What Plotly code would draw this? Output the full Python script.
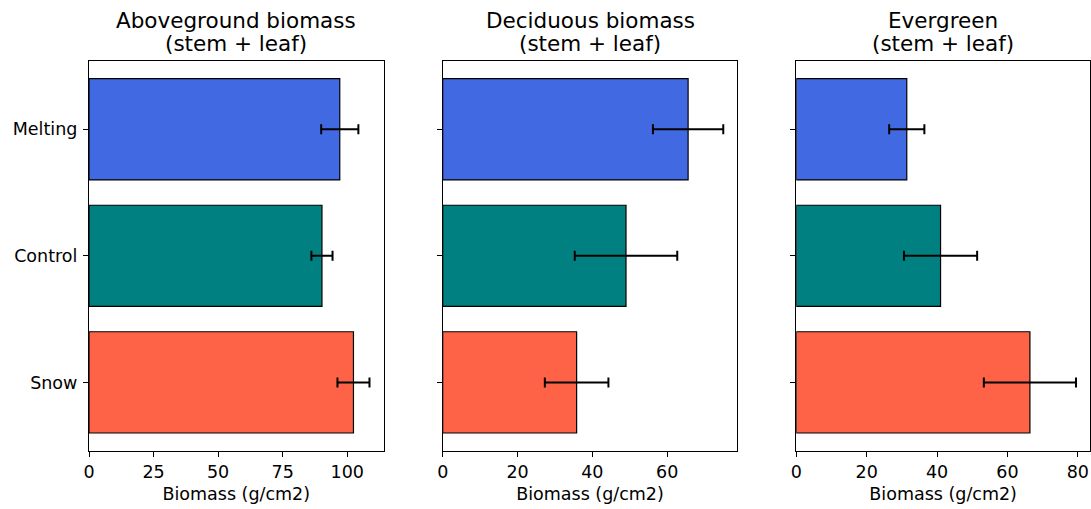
import plotly.graph_objects as go

categories = ["Melting", "Control", "Snow"]
colors = ["#4169E1", "#008080", "#FF6347"]

titles = [("Aboveground biomass", "(stem + leaf)"),
          ("Deciduous biomass", "(stem + leaf)"),
          ("Evergreen", "(stem + leaf)")]

above_vals = [97.1, 90.2, 102.4]
above_err = [7.2, 4.1, 6.2]
decid_vals = [65.6, 49.0, 35.8]
decid_err = [9.4, 13.7, 8.5]
ever_vals = [31.4, 41.0, 66.4]
ever_err = [5.0, 10.4, 13.1]

x_ticks = [[0, 25, 50, 75, 100], [0, 20, 40, 60], [0, 20, 40, 60, 80]]

series = [(above_vals, above_err), (decid_vals, decid_err), (ever_vals, ever_err)]

W, H = 1091, 509
x_domains = [[89 / W, 383.5 / W], [442.7 / W, 737.3 / W], [796.3 / W, 1090 / W]]
y_domain = [1 - 450.7 / H, 1 - 61 / H]

font = "DejaVu Sans"
fig = go.Figure()

for i, (vals, errs) in enumerate(series):
    n = "" if i == 0 else str(i + 1)
    fig.add_trace(go.Bar(
        x=vals, y=categories, orientation="h", width=0.8,
        marker=dict(color=colors, line=dict(color="black", width=1.2)),
        error_x=dict(type="data", array=errs, visible=True, color="black",
                     thickness=2, width=5),
        xaxis="x" + n, yaxis="y" + n, showlegend=False,
    ))
    xmax = max(v + e for v, e in zip(vals, errs)) * 1.05
    axis_common = dict(showline=True, mirror=True, linecolor="black", linewidth=1.2,
                       ticks="outside", ticklen=5, tickwidth=1, tickcolor="black",
                       showgrid=False, zeroline=False, automargin=False,
                       tickfont=dict(family=font, size=17.5, color="black"))
    fig.layout["xaxis" + n] = dict(
        domain=x_domains[i], range=[0, xmax], anchor="y" + n,
        tickvals=x_ticks[i], ticktext=[str(t) for t in x_ticks[i]],
        title=dict(text="Biomass (g/cm2)", font=dict(family=font, size=17.5, color="black"),
                   standoff=6),
        **axis_common)
    fig.layout["yaxis" + n] = dict(
        domain=y_domain, anchor="x" + n, range=[-0.54, 2.54],
        categoryorder="array", categoryarray=categories[::-1],
        showticklabels=(i == 0), ticklabelstandoff=2, **axis_common)
    cx = (x_domains[i][0] + x_domains[i][1]) / 2
    fig.add_annotation(text=titles[i][0], x=cx, y=1 - 20.5 / H, xref="paper", yref="paper",
                       xanchor="center", yanchor="middle", showarrow=False,
                       font=dict(family=font, size=21.5, color="black"))
    fig.add_annotation(text=titles[i][1], x=cx, y=1 - 43.5 / H, xref="paper", yref="paper",
                       xanchor="center", yanchor="middle", showarrow=False,
                       font=dict(family=font, size=21.5, color="black"))

fig.update_layout(width=W, height=H, margin=dict(l=0, r=0, t=0, b=0),
                  plot_bgcolor="white", paper_bgcolor="white",
                  font=dict(family=font, color="black"))

fig.write_html("out.html")
